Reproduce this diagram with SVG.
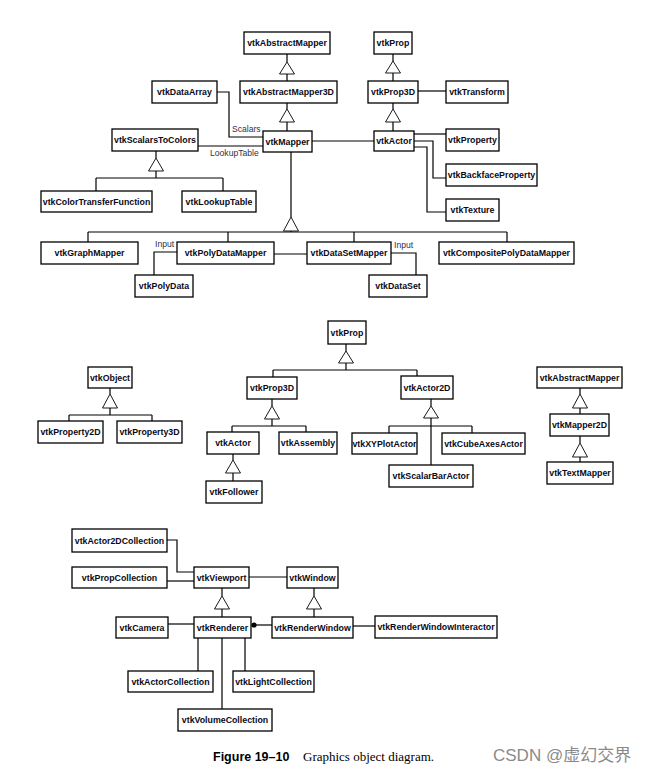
<svg xmlns="http://www.w3.org/2000/svg" width="648" height="771" viewBox="0 0 648 771">
<style>
.n rect{fill:#fff;stroke:#000;stroke-width:1.3}
.n text{font-family:"Liberation Sans",Arial,sans-serif;font-weight:bold;font-size:8.8px;fill:#0a0a18;text-anchor:middle}
.c path,.c line,.c polyline{fill:none;stroke:#000;stroke-width:1.2}
.c polygon{fill:#fff;stroke:#000;stroke-width:0.9}
.lbl{font-family:"Liberation Sans",Arial,sans-serif;font-size:8.6px;fill:#2a3350}
</style>
<rect width="648" height="771" fill="#fff"/>
<g class="c" id="connectors">
<!-- top section -->
<path d="M287 54V62M287 74V81"/><polygon points="287,62 279.5,74 294.5,74"/>
<path d="M287 103V109M287 122V131"/><polygon points="287,109 279.5,122 294.5,122"/>
<polyline points="217,92 229,92 229,137 263,137"/>
<line x1="198" y1="146" x2="263" y2="146"/>
<path d="M156 151V158M156 171V178M96 178H223M96 178V191M223 178V191"/><polygon points="156,158 148.5,171 163.5,171"/>
<path d="M291 152V217M291 231V232M88 232H507M88 232V242M228 232V242M354 232V242M507 232V242"/><polygon points="291,217 283.5,231 298.5,231"/>
<line x1="274" y1="254" x2="307" y2="254"/>
<polyline points="177,252 154,252 154,275"/>
<polyline points="391,253 416,253 416,275"/>
<line x1="312" y1="141" x2="374" y2="141"/>
<path d="M393 54V61M393 73V81"/><polygon points="393,61 385.5,73 400.5,73"/>
<line x1="418" y1="91" x2="446" y2="91"/>
<path d="M393 103V109M393 122V131"/><polygon points="393,109 385.5,122 400.5,122"/>
<line x1="414" y1="134" x2="446" y2="134"/>
<polyline points="414,141 433,141 433,178 446,178"/>
<polyline points="414,147 427,147 427,212 446,212"/>
<!-- middle section -->
<path d="M110 388V394M110 408V415M69 415H152M69 415V421M152 415V421"/><polygon points="110,394 102.5,408 117.5,408"/>
<path d="M346 344V351M346 363V370M273 370H417M273 370V377M417 370V376"/><polygon points="346,351 338.5,363 353.5,363"/>
<path d="M272 399V406M272 419V426M232 426H306M232 426V432M306 426V432"/><polygon points="272,406 264.5,419 279.5,419"/>
<path d="M233 454V460M233 473V481"/><polygon points="233,460 225.5,473 240.5,473"/>
<path d="M431 399V406M431 418V465M389 426H472M389 426V433M472 426V433"/><polygon points="431,406 423.5,418 438.5,418"/>
<path d="M580 388V394M580 408V414"/><polygon points="580,394 572.5,408 587.5,408"/>
<path d="M580 436V443M580 457V462"/><polygon points="580,443 572.5,457 587.5,457"/>
<!-- bottom section -->
<polyline points="167,540 177,540 177,572 194,572"/>
<line x1="167" y1="581" x2="194" y2="581"/>
<line x1="249" y1="577" x2="287" y2="577"/>
<path d="M222 588V596M222 609V617"/><polygon points="222,596 214.5,609 229.5,609"/>
<path d="M314 588V596M314 609V617"/><polygon points="314,596 306.5,609 321.5,609"/>
<line x1="168" y1="624" x2="194" y2="624"/>
<line x1="253" y1="625" x2="272" y2="625"/>
<circle cx="254" cy="625" r="2.6" fill="#000"/>
<line x1="353" y1="626" x2="375" y2="626"/>
<path d="M198 638V671M222 638V709M245 638V671"/>
</g>
<text class="lbl" x="232" y="132">Scalars</text>
<text class="lbl" x="210" y="156">LookupTable</text>
<text class="lbl" x="155" y="247">Input</text>
<text class="lbl" x="394" y="248">Input</text>
<g class="n" id="vtkAbstractMapper"><rect x="244" y="32" width="86" height="22"/><text x="287" y="46">vtkAbstractMapper</text></g>
<g class="n" id="vtkAbstractMapper3D"><rect x="240" y="81" width="97" height="22"/><text x="288.5" y="95">vtkAbstractMapper3D</text></g>
<g class="n" id="vtkDataArray"><rect x="152" y="81" width="65" height="22"/><text x="184.5" y="95">vtkDataArray</text></g>
<g class="n" id="vtkMapper"><rect x="263" y="131" width="49" height="21"/><text x="287.5" y="144.5">vtkMapper</text></g>
<g class="n" id="vtkScalarsToColors"><rect x="112" y="129" width="86" height="22"/><text x="155" y="143">vtkScalarsToColors</text></g>
<g class="n" id="vtkColorTransferFunction"><rect x="41" y="191" width="111" height="21"/><text x="96.5" y="204.5">vtkColorTransferFunction</text></g>
<g class="n" id="vtkLookupTable"><rect x="182" y="191" width="74" height="21"/><text x="219" y="204.5">vtkLookupTable</text></g>
<g class="n" id="vtkProp"><rect x="374" y="32" width="38" height="22"/><text x="393" y="46">vtkProp</text></g>
<g class="n" id="vtkProp3D"><rect x="368" y="81" width="50" height="22"/><text x="393" y="95">vtkProp3D</text></g>
<g class="n" id="vtkTransform"><rect x="446" y="81" width="62" height="22"/><text x="477" y="95">vtkTransform</text></g>
<g class="n" id="vtkActor"><rect x="374" y="131" width="40" height="20"/><text x="394" y="144">vtkActor</text></g>
<g class="n" id="vtkProperty"><rect x="446" y="129" width="53" height="22"/><text x="472.5" y="143">vtkProperty</text></g>
<g class="n" id="vtkBackfaceProperty"><rect x="446" y="164" width="91" height="22"/><text x="491.5" y="178">vtkBackfaceProperty</text></g>
<g class="n" id="vtkTexture"><rect x="446" y="199" width="53" height="22"/><text x="472.5" y="213">vtkTexture</text></g>
<g class="n" id="vtkGraphMapper"><rect x="41" y="242" width="97" height="22"/><text x="89.5" y="256">vtkGraphMapper</text></g>
<g class="n" id="vtkPolyDataMapper"><rect x="177" y="242" width="97" height="22"/><text x="225.5" y="256">vtkPolyDataMapper</text></g>
<g class="n" id="vtkDataSetMapper"><rect x="307" y="242" width="84" height="22"/><text x="349" y="256">vtkDataSetMapper</text></g>
<g class="n" id="vtkCompositePolyDataMapper"><rect x="439" y="242" width="135" height="22"/><text x="506.5" y="256">vtkCompositePolyDataMapper</text></g>
<g class="n" id="vtkPolyData"><rect x="135" y="275" width="58" height="22"/><text x="164" y="289">vtkPolyData</text></g>
<g class="n" id="vtkDataSet"><rect x="369" y="275" width="58" height="22"/><text x="398" y="289">vtkDataSet</text></g>
<g class="n" id="vtkObject"><rect x="88" y="367" width="44" height="21"/><text x="110" y="380.5">vtkObject</text></g>
<g class="n" id="vtkProperty2D"><rect x="38" y="421" width="65" height="22"/><text x="70.5" y="435">vtkProperty2D</text></g>
<g class="n" id="vtkProperty3D"><rect x="117" y="421" width="65" height="22"/><text x="149.5" y="435">vtkProperty3D</text></g>
<g class="n" id="vtkProp-2"><rect x="328" y="321" width="38" height="23"/><text x="347" y="335.5">vtkProp</text></g>
<g class="n" id="vtkProp3D-2"><rect x="247" y="377" width="50" height="22"/><text x="272" y="391">vtkProp3D</text></g>
<g class="n" id="vtkActor2D"><rect x="401" y="376" width="52" height="23"/><text x="427" y="390.5">vtkActor2D</text></g>
<g class="n" id="vtkActor-2"><rect x="207" y="432" width="52" height="22"/><text x="233" y="446">vtkActor</text></g>
<g class="n" id="vtkAssembly"><rect x="279" y="432" width="58" height="22"/><text x="308" y="446">vtkAssembly</text></g>
<g class="n" id="vtkFollower"><rect x="206" y="481" width="56" height="22"/><text x="234" y="495">vtkFollower</text></g>
<g class="n" id="vtkXYPlotActor"><rect x="352" y="433" width="65" height="21"/><text x="384.5" y="446.5">vtkXYPlotActor</text></g>
<g class="n" id="vtkCubeAxesActor"><rect x="442" y="433" width="83" height="21"/><text x="483.5" y="446.5">vtkCubeAxesActor</text></g>
<g class="n" id="vtkScalarBarActor"><rect x="389" y="465" width="84" height="22"/><text x="431" y="479">vtkScalarBarActor</text></g>
<g class="n" id="vtkAbstractMapper-2"><rect x="537" y="367" width="85" height="21"/><text x="579.5" y="380.5">vtkAbstractMapper</text></g>
<g class="n" id="vtkMapper2D"><rect x="550" y="414" width="59" height="22"/><text x="579.5" y="428">vtkMapper2D</text></g>
<g class="n" id="vtkTextMapper"><rect x="547" y="462" width="66" height="22"/><text x="580" y="476">vtkTextMapper</text></g>
<g class="n" id="vtkActor2DCollection"><rect x="72" y="529" width="95" height="23"/><text x="119.5" y="543.5">vtkActor2DCollection</text></g>
<g class="n" id="vtkPropCollection"><rect x="72" y="567" width="95" height="21"/><text x="119.5" y="580.5">vtkPropCollection</text></g>
<g class="n" id="vtkViewport"><rect x="194" y="567" width="55" height="21"/><text x="221.5" y="580.5">vtkViewport</text></g>
<g class="n" id="vtkWindow"><rect x="287" y="567" width="51" height="21"/><text x="312.5" y="580.5">vtkWindow</text></g>
<g class="n" id="vtkRenderer"><rect x="194" y="617" width="57" height="21"/><text x="222.5" y="630.5">vtkRenderer</text></g>
<g class="n" id="vtkCamera"><rect x="116" y="617" width="52" height="21"/><text x="142" y="630.5">vtkCamera</text></g>
<g class="n" id="vtkRenderWindow"><rect x="272" y="617" width="81" height="21"/><text x="312.5" y="630.5">vtkRenderWindow</text></g>
<g class="n" id="vtkRenderWindowInteractor"><rect x="375" y="616" width="122" height="22"/><text x="436" y="630">vtkRenderWindowInteractor</text></g>
<g class="n" id="vtkActorCollection"><rect x="128" y="671" width="85" height="21"/><text x="170.5" y="684.5">vtkActorCollection</text></g>
<g class="n" id="vtkLightCollection"><rect x="233" y="671" width="81" height="21"/><text x="273.5" y="684.5">vtkLightCollection</text></g>
<g class="n" id="vtkVolumeCollection"><rect x="178" y="709" width="94" height="22"/><text x="225" y="723">vtkVolumeCollection</text></g>
<text x="213" y="761" font-family="'Liberation Sans',Arial,sans-serif" font-weight="bold" font-size="12.5" fill="#000">Figure 19–10</text>
<text x="303" y="761" font-family="'Liberation Serif','Times New Roman',serif" font-size="13" fill="#000">Graphics object diagram.</text>
<text x="493" y="761" font-family="'Liberation Sans','Noto Sans CJK SC',sans-serif" font-size="17" fill="#8a8a8a">CSDN @虚幻交界</text>
</svg>
